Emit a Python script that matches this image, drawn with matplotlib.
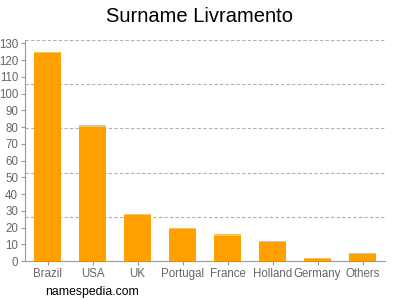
import matplotlib
matplotlib.use("Agg")
import matplotlib.pyplot as plt
import numpy as np

plt.rcParams['font.family'] = ['Liberation Sans', 'DejaVu Sans']

categories = ["Brazil", "USA", "UK", "Portugal", "France", "Holland", "Germany", "Others"]
values = [125, 81, 28, 20, 16, 12, 2, 5]
yticks = list(range(0, 131, 10))
ymax = 132

fig = plt.figure(figsize=(4, 3), dpi=100)
ax = fig.add_axes([0.0625, 0.13, 0.9, 0.7367])
x = np.arange(len(categories))
ax.bar(x, values, width=0.62, color="#ffa000", edgecolor="none", zorder=3)
# lighter top edges
ax.bar(x, [0.8]*len(values), bottom=np.array(values)-0.8, width=0.62, color="#ffc24d", edgecolor="none", zorder=4)

ax.set_xlim(-0.5, len(categories) - 0.5)
ax.set_ylim(0, ymax)
for k in range(1, 6):
    ax.axhline(ymax / 5 * k, color="#b0b0b0", linestyle=(0, (3, 2)), linewidth=0.8, zorder=1)

ax.set_yticks(yticks)
ax.set_xticks(x)
ax.set_xticklabels(categories)
ax.tick_params(axis='both', colors="#999999", labelcolor="#666666", labelsize=8.3, length=3, width=0.8, pad=2)
for s in ["top", "right"]:
    ax.spines[s].set_visible(False)
for s in ["left", "bottom"]:
    ax.spines[s].set_color("#999999")
    ax.spines[s].set_linewidth(0.8)

fig.text(0.5, 0.945, "Surname Livramento", ha="center", va="center", fontsize=14.5, color="#000000")
fig.text(0.113, 0.027, "namespedia.com", ha="left", va="center", fontsize=8.8, color="#000000")

fig.savefig("out.png", dpi=100)
